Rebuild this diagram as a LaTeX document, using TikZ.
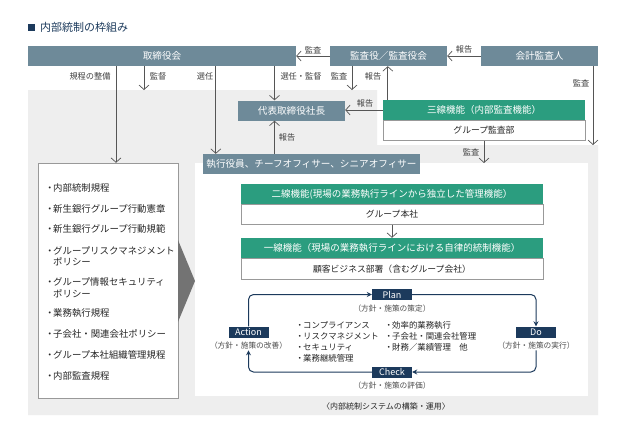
\documentclass[tikz,border=0pt]{standalone}
\usepackage{fontspec}
\setmainfont{Noto Sans CJK JP}
\usepackage{tikz}
\usetikzlibrary{arrows.meta}

\definecolor{slate}{HTML}{6E8A99}
\definecolor{linegreen}{HTML}{2B9D7F}
\definecolor{navy}{HTML}{1C3A5C}
\definecolor{panelgray}{HTML}{EEEEEE}
\definecolor{linegray}{HTML}{555555}
\definecolor{framegray}{HTML}{999999}

\newcommand\bul{\makebox[7pt]{・}}

\begin{document}
\begin{tikzpicture}[x=1pt,y={(0,-1pt)},
    slatebox/.style={fill=slate,text=white,inner sep=0pt,minimum height=20pt,
        font=\fontsize{9.6}{11}\selectfont},
    greenhead/.style={fill=linegreen,text=white,inner sep=0pt,minimum height=20pt,
        font=\fontsize{9.5}{11}\selectfont},
    bodybox/.style={fill=white,draw=framegray,text=black!85,inner sep=0pt,minimum height=20pt,
        font=\fontsize{8.8}{10}\selectfont},
    pdca/.style={fill=navy,text=white,inner sep=0pt,minimum width=40pt,minimum height=11pt,
        font=\fontsize{9}{9}\selectfont},
    pdcasub/.style={text=black!70,inner sep=1pt,font=\fontsize{7.7}{8}\selectfont},
    lbl/.style={text=black!75,inner sep=1pt,font=\fontsize{8.2}{9}\selectfont},
    arr/.style={draw=linegray,line width=0.7pt,-{Straight Barb[length=4.5pt,width=10pt]}},
    cyc/.style={draw=navy,line width=1pt,rounded corners=5pt,-{Stealth[length=5pt,width=5pt]}}]

    \useasboundingbox (0,0) rectangle (621,437);
    \fill[white] (0,0) rectangle (621,437);

    % panels
    \fill[panelgray] (28,90) -- (377,90) -- (377,145) -- (598,145) -- (598,415) -- (28,415) -- cycle;
    \fill[white] (195,163) rectangle (588,396);

    % title
    \fill[navy] (28,24) rectangle (35,31);
    \node[anchor=west,inner sep=0pt,text=navy,font=\fontsize{11}{12}\selectfont] (title) at (40,27.5) {内部統制の枠組み};

    % top row
    \node[slatebox,minimum width=268pt] (board) at (162,56) {取締役会};
    \node[slatebox,minimum width=117pt] (auditor) at (388.5,56) {監査役／監査役会};
    \node[slatebox,minimum width=117pt] (accnt) at (539.5,56) {会計監査人};
    \node[slatebox,minimum width=107pt] (ceo) at (291.5,110.5) {代表取締役社長};
    \node[slatebox,minimum width=217pt] (exec) at (311.5,164) {執行役員、チーフオフィサー、シニアオフィサー};

    \node[greenhead,minimum width=202pt] (third) at (484,110) {三線機能（内部監査機能）};
    \node[bodybox,minimum width=202pt,anchor=north] (thirdbody) at (third.south) {グループ監査部};

    \node[greenhead,minimum width=302pt] (second) at (392,194) {二線機能(現場の業務執行ラインから独立した管理機能）};
    \node[bodybox,minimum width=302pt,anchor=north] (secondbody) at (second.south) {グループ本社};
    \node[greenhead,minimum width=302pt] (first) at (392,248) {一線機能（現場の業務執行ラインにおける自律的統制機能）};
    \node[bodybox,minimum width=302pt,minimum height=21pt,anchor=north] (firstbody) at (first.south) {顧客ビジネス部署（含むグループ会社）};

    % rule list
    \node[fill=white,draw=framegray,minimum width=140pt,minimum height=235pt,inner sep=0pt] (rules) at (108,280.5) {};
    \foreach \y/\t in {188/内部統制規程,208.5/新生銀行グループ行動憲章,229/新生銀行グループ行動規範,
        256/{グループリスクマネジメント\\\hspace*{7pt}ポリシー},287.5/{グループ情報セキュリティ\\\hspace*{7pt}ポリシー},
        313/業務執行規程,333.5/子会社・関連会社ポリシー,354.5/グループ本社組織管理規程,376/内部監査規程}
        \node[anchor=west,align=left,inner sep=0pt,text=black!85,font=\fontsize{9.4}{11.5}\selectfont] at (46,\y) {\bul\t};
    \fill[black!55] (178,240) -- (195,281) -- (178,322) -- cycle;

    % connectors
    \coordinate (supv) at (144,90);
    \coordinate (audit1) at (352,90);
    \coordinate (accend) at (593,145);
    \coordinate (paneltop) at (484,163);
    \draw[arr] (auditor.west) -- (board.east) node[lbl,midway,above=1pt] {監査};
    \draw[arr] (accnt.west) -- (auditor.east) node[lbl,midway,above=1pt] {報告};
    \draw[arr] (accend |- accnt.south) -- (accend);
    \node[lbl] (l1) at (581,83) {監査};
    \draw[arr] ([xshift=8pt]rules.north |- board.south) -- ([xshift=8pt]rules.north);
    \node[lbl] (l2) at (90,76) {規程の整備};
    \draw[arr] (supv |- board.south) -- (supv);
    \node[lbl] (l3) at (158,76) {監督};
    \draw[arr] ([xshift=13pt]exec.north west |- board.south) -- ([xshift=13pt]exec.north west);
    \node[lbl] (l4) at (205,76) {選任};
    \draw[arr] ([xshift=-17pt]ceo.north |- board.south) -- ([xshift=-17pt]ceo.north);
    \node[lbl] (l5) at (301,76) {選任・監督};
    \draw[arr] (audit1 |- auditor.south) -- (audit1);
    \node[lbl] (l6) at (339,76) {監査};
    \draw[arr] ([xshift=5pt]third.north west) -- ([xshift=5pt]third.north west |- auditor.south);
    \node[lbl] (l7) at (373,76) {報告};
    \draw[arr] (third.west) -- (third.west -| ceo.east);
    \node[lbl] (l8) at (365,103) {報告};
    \draw[arr] ([xshift=-17pt]ceo.south |- exec.north) -- ([xshift=-17pt]ceo.south);
    \node[lbl] (l9) at (287,137) {報告};
    \draw[arr] (thirdbody.south) -- (paneltop);
    \node[lbl] (l10) at (471,152) {監査};
    \draw[arr] (secondbody.south) -- (first.north);

    % PDCA
    \node[pdca] (plan) at (392,294.5) {Plan};
    \node[pdcasub] (plansub) at (392,308.5) {（方針・施策の策定）};
    \node[pdca] (do) at (536,332) {Do};
    \node[pdcasub] (dosub) at (536,345.5) {（方針・施策の実行）};
    \node[pdca] (chk) at (392,372) {Check};
    \node[pdcasub] (chksub) at (392,386) {（方針・施策の評価）};
    \node[pdca] (act) at (248.5,332) {Action};
    \node[pdcasub] (actsub) at (248.5,345.5) {（方針・施策の改善）};
    \draw[cyc] (act.north) |- (plan.west);
    \draw[cyc] (plan.east) -| (do.north);
    \draw[cyc] (dosub.south) |- (chk.east);
    \draw[cyc] (chk.west) -| (actsub.south);
    \node[anchor=west,align=left,inner sep=0pt,text=black!85,font=\fontsize{8.4}{11}\selectfont] (risk) at (296,341.5)
        {\bul コンプライアンス\\\bul リスクマネジメント\\\bul セキュリティ\\\bul 業務継続管理};
    \node[anchor=west,align=left,inner sep=0pt,text=black!85,font=\fontsize{8.4}{11}\selectfont] (biz) at (385,336)
        {\bul 効率的業務執行\\\bul 子会社・関連会社管理\\\bul 財務／業績管理\quad 他};

    \node[lbl,font=\fontsize{8}{9}\selectfont,text=black!85] (caption) at (386,406) {〈内部統制システムの構築・運用〉};

\end{tikzpicture}
\end{document}
